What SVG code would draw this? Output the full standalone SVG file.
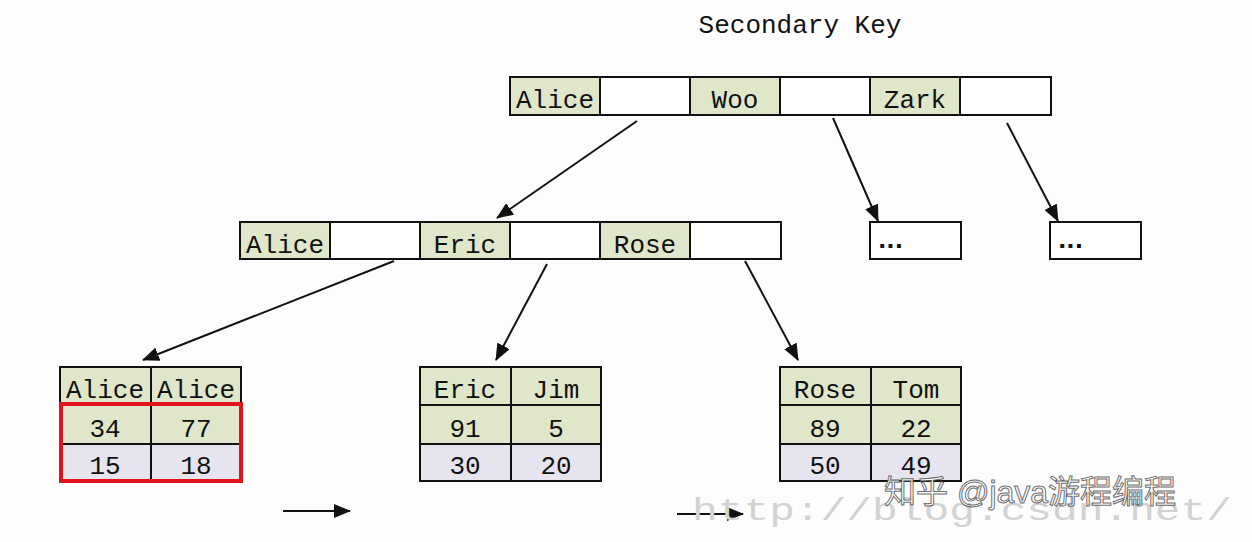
<svg xmlns="http://www.w3.org/2000/svg" width="1252" height="542" viewBox="0 0 1252 542">
<defs>
<style>
.t{font-family:"Liberation Mono","DejaVu Sans Mono",monospace;font-size:26px;fill:#111;text-anchor:middle}
.c{stroke:#111;stroke-width:2}
.k{fill:#dfe6c9}
.e{fill:#ffffff}
.v{fill:#e5e4ef}
.d{font-family:"DejaVu Sans",sans-serif;font-size:22px;font-weight:bold;fill:#111}
.ln{stroke:#111;stroke-width:2;fill:none;marker-end:url(#ah)}
</style>
<marker id="ah" markerUnits="userSpaceOnUse" markerWidth="18" markerHeight="14" refX="16" refY="7" orient="auto">
<path d="M0,0 L17,7 L0,14 Z" fill="#111"/>
</marker>
</defs>
<rect width="1252" height="542" fill="#fdfdfd"/>
<text class="t" x="800" y="33">Secondary Key</text>

<g id="root">
<rect class="c k" x="510" y="77" width="90" height="38"/>
<rect class="c e" x="600" y="77" width="90" height="38"/>
<rect class="c k" x="690" y="77" width="90" height="38"/>
<rect class="c e" x="780" y="77" width="90" height="38"/>
<rect class="c k" x="870" y="77" width="90" height="38"/>
<rect class="c e" x="960" y="77" width="91" height="38"/>
<text class="t" x="555" y="108">Alice</text>
<text class="t" x="735" y="108">Woo</text>
<text class="t" x="915" y="108">Zark</text>
</g>

<g id="mid">
<rect class="c k" x="240" y="222" width="90" height="37"/>
<rect class="c e" x="330" y="222" width="90" height="37"/>
<rect class="c k" x="420" y="222" width="90" height="37"/>
<rect class="c e" x="510" y="222" width="90" height="37"/>
<rect class="c k" x="600" y="222" width="90" height="37"/>
<rect class="c e" x="690" y="222" width="91" height="37"/>
<text class="t" x="285" y="253">Alice</text>
<text class="t" x="465" y="253">Eric</text>
<text class="t" x="645" y="253">Rose</text>
</g>

<g id="dots1">
<rect class="c e" x="870" y="222" width="91" height="37"/>
<text class="d" x="878" y="248">...</text>
</g>
<g id="dots2">
<rect class="c e" x="1050" y="222" width="91" height="37"/>
<text class="d" x="1058" y="248">...</text>
</g>

<g id="leafAlice">
<rect class="c k" x="60" y="367" width="91" height="38"/>
<rect class="c k" x="151" y="367" width="90" height="38"/>
<rect class="c k" x="60" y="405" width="91" height="39"/>
<rect class="c k" x="151" y="405" width="90" height="39"/>
<rect class="c v" x="60" y="444" width="91" height="37"/>
<rect class="c v" x="151" y="444" width="90" height="37"/>
<text class="t" x="105" y="398">Alice</text>
<text class="t" x="196" y="398">Alice</text>
<text class="t" x="105" y="437">34</text>
<text class="t" x="196" y="437">77</text>
<text class="t" x="105" y="474">15</text>
<text class="t" x="196" y="474">18</text>
<rect x="61" y="404" width="180" height="77" fill="none" stroke="#e0141c" stroke-width="4"/>
</g>

<g id="leafEric">
<rect class="c k" x="420" y="367" width="91" height="38"/>
<rect class="c k" x="511" y="367" width="90" height="38"/>
<rect class="c k" x="420" y="405" width="91" height="39"/>
<rect class="c k" x="511" y="405" width="90" height="39"/>
<rect class="c v" x="420" y="444" width="91" height="37"/>
<rect class="c v" x="511" y="444" width="90" height="37"/>
<text class="t" x="465" y="398">Eric</text>
<text class="t" x="556" y="398">Jim</text>
<text class="t" x="465" y="437">91</text>
<text class="t" x="556" y="437">5</text>
<text class="t" x="465" y="474">30</text>
<text class="t" x="556" y="474">20</text>
</g>

<g id="leafRose">
<rect class="c k" x="780" y="367" width="91" height="38"/>
<rect class="c k" x="871" y="367" width="90" height="38"/>
<rect class="c k" x="780" y="405" width="91" height="39"/>
<rect class="c k" x="871" y="405" width="90" height="39"/>
<rect class="c v" x="780" y="444" width="91" height="37"/>
<rect class="c v" x="871" y="444" width="90" height="37"/>
<text class="t" x="825" y="398">Rose</text>
<text class="t" x="916" y="398">Tom</text>
<text class="t" x="825" y="437">89</text>
<text class="t" x="916" y="437">22</text>
<text class="t" x="825" y="474">50</text>
<text class="t" x="916" y="474">49</text>
</g>

<g id="connectors">
<line class="ln" x1="637" y1="121" x2="497" y2="218"/>
<line class="ln" x1="833" y1="118" x2="878" y2="221"/>
<line class="ln" x1="1007" y1="123" x2="1058" y2="221"/>
<line class="ln" x1="394" y1="261" x2="143" y2="360"/>
<line class="ln" x1="547" y1="264" x2="496" y2="360"/>
<line class="ln" x1="745" y1="261" x2="798" y2="360"/>
<line class="ln" x1="283" y1="511" x2="350" y2="511"/>
<line class="ln" x1="677" y1="514" x2="743" y2="514"/>
</g>

<g id="watermark">
<text x="692" y="520" font-family="Liberation Mono, monospace" font-size="32" fill="#d2d2d2" textLength="540" lengthAdjust="spacingAndGlyphs">http://blog.csdn.net/</text>
<text x="884" y="503" font-family="Liberation Sans, Noto Sans CJK SC, sans-serif" font-size="32" fill="#ffffff" stroke="#555" stroke-width="1" opacity="0.85">知乎 @java游程编程</text>
</g>
</svg>
